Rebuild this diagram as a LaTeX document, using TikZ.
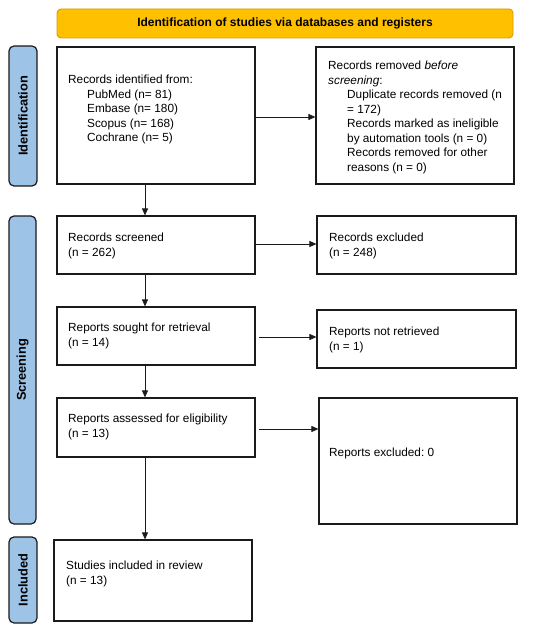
\documentclass[tikz,border=0pt]{standalone}
\usepackage{fontspec}
\setmainfont{Liberation Sans}
\usetikzlibrary{arrows.meta}
\frenchspacing
\definecolor{hdrfill}{HTML}{FFC000}
\definecolor{hdrline}{HTML}{D99A00}
\definecolor{sidefill}{HTML}{9DC3E6}
\definecolor{boxline}{HTML}{1A1A1A}
\tikzset{
  box/.style={draw=boxline, line width=1.2pt, rectangle, inner sep=0pt},
  txt/.style={anchor=north west, inner sep=0pt, align=left, font=\fontsize{11.8}{14.5}\selectfont},
  hdr/.style={draw=hdrline, fill=hdrfill, line width=0.9pt, rounded corners=4pt, inner sep=0pt,
              font=\fontsize{12}{14}\selectfont\bfseries},
  side/.style={draw=boxline, fill=sidefill, line width=1.2pt, rounded corners=5pt, inner sep=0pt},
  sidetxt/.style={rotate=90, inner sep=0pt, font=\fontsize{12.8}{14}\selectfont\bfseries},
  arr/.style={draw=boxline, line width=0.8pt, -{Triangle[length=7pt,width=6pt]}}
}
\newcommand{\ind}{\hspace*{19pt}}
\begin{document}
\begin{tikzpicture}[x=1pt,y=-1pt]
\useasboundingbox (0,0) rectangle (550,628);
\fill[white] (0,0) rectangle (550,628);
% header
\node[hdr, minimum width=456pt, minimum height=29pt] (hdr) at (285,23.5) {Identification of studies via databases and registers};
% side bars
\node[side, minimum width=28pt, minimum height=140pt] (s1) at (23,116) {};
\node[sidetxt] (s1t) at (s1.center) {Identification};
\node[side, minimum width=27pt, minimum height=308pt] (s2) at (22.5,370) {};
\node[sidetxt] (s2t) at (s2.center) {Screening};
\node[side, minimum width=28pt, minimum height=86pt] (s3) at (23,580) {};
\node[sidetxt] (s3t) at (s3.center) {Included};
% boxes
\node[box, minimum width=198pt, minimum height=137pt] (A) at (156,115.5) {};
\node[box, minimum width=198pt, minimum height=137pt] (B) at (415,115.5) {};
\node[box, minimum width=198pt, minimum height=58pt] (C) at (156,245) {};
\node[box, minimum width=199pt, minimum height=58pt] (D) at (416.5,245) {};
\node[box, minimum width=198pt, minimum height=58pt] (E) at (156,336) {};
\node[box, minimum width=199pt, minimum height=58pt] (F) at (416.5,339) {};
\node[box, minimum width=198pt, minimum height=59pt] (G) at (156,427.5) {};
\node[box, minimum width=198pt, minimum height=126pt] (H) at (418,461) {};
\node[box, minimum width=198pt, minimum height=81pt] (I) at (153,580.5) {};
% texts
\node[txt] (tA) at (68,75) {Records identified from:\\\ind PubMed (n= 81)\\\ind Embase (n= 180)\\\ind Scopus (n= 168)\\\ind Cochrane (n= 5)};
\node[txt] (tB) at (328,61) {Records removed \textit{before}\\\textit{screening}:\\\ind Duplicate records removed (n\\\ind = 172)\\\ind Records marked as ineligible\\\ind by automation tools (n = 0)\\\ind Records removed for other\\\ind reasons (n = 0)};
\node[txt] (tC) at (68,233) {Records screened\\(n = 262)};
\node[txt] (tD) at (329,233) {Records excluded\\(n = 248)};
\node[txt] (tE) at (68,323) {Reports sought for retrieval\\(n = 14)};
\node[txt] (tF) at (329,327) {Reports not retrieved\\(n = 1)};
\node[txt] (tG) at (68,414) {Reports assessed for eligibility\\(n = 13)};
\node[txt] (tH) at (329,448) {Reports excluded: 0};
\node[txt] (tI) at (66,561) {Studies included in review\\(n = 13)};
% connectors
\coordinate (col) at (145,0);
\draw[arr] (A.south -| col) -- (C.north -| col);
\draw[arr] (C.south -| col) -- (E.north -| col);
\draw[arr] (E.south -| col) -- (G.north -| col);
\draw[arr] (G.south -| col) -- (I.north -| col);
\coordinate (yab) at (0,117);
\coordinate (ycd) at (0,244);
\coordinate (yef) at (0,337);
\coordinate (ygh) at (0,429);
\draw[arr] (A.east |- yab) -- (B.west |- yab);
\draw[arr] (C.east |- ycd) -- (D.west |- ycd);
\draw[arr] ([xshift=3pt]E.east |- yef) -- (F.west |- yef);
\draw[arr] ([xshift=3pt]G.east |- ygh) -- (H.west |- ygh);
\end{tikzpicture}
\end{document}
